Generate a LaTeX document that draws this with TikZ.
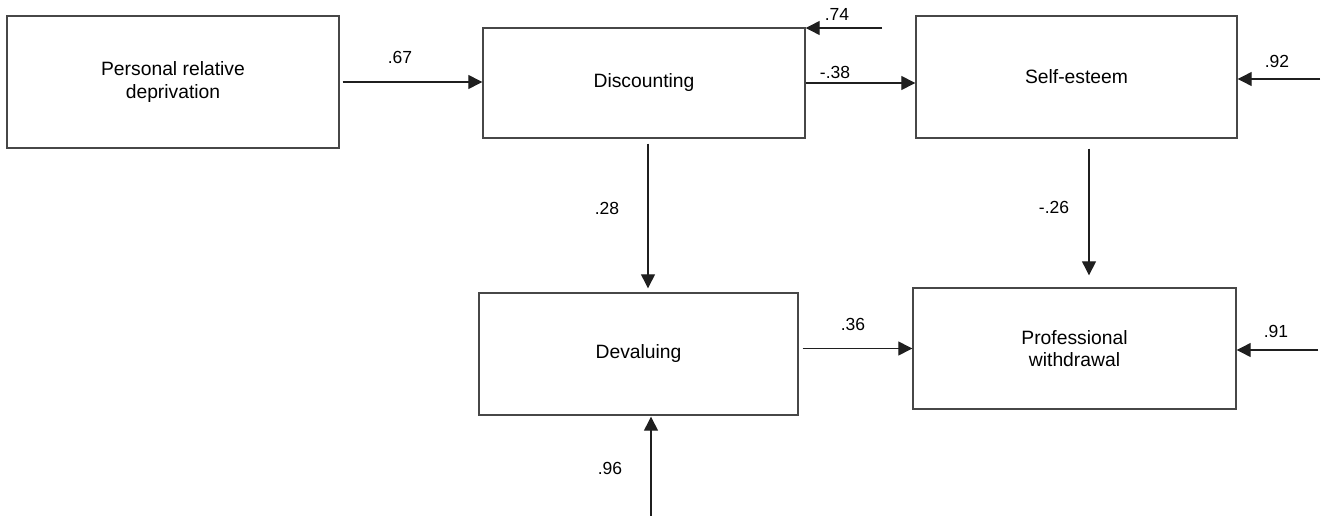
\documentclass[tikz,border=0pt]{standalone}
\usepackage{fontspec}
\setmainfont{Liberation Sans}
\usetikzlibrary{arrows.meta,calc}
\begin{document}
\begin{tikzpicture}[x=1pt,y=-1pt,
  box/.style={draw=black!72,line width=1.4pt,rectangle,inner sep=0pt,align=center,
    font=\fontsize{19.3}{22.5}\selectfont},
  conn/.style={draw=black!88,line width=1.3pt,-{Triangle[length=14pt,width=14pt]}},
  lab/.style={inner sep=0pt,font=\fontsize{17.5}{20}\selectfont}]
\useasboundingbox (0,0) rectangle (1321,516);
% boxes
\node[box,minimum width=332pt,minimum height=132pt] (prd) at (173,82) {Personal relative\\deprivation};
\node[box,minimum width=322pt,minimum height=110pt] (disc) at (644,83) {Discounting};
\node[box,minimum width=321pt,minimum height=122pt] (se) at (1076.5,77) {Self-esteem};
\node[box,minimum width=319pt,minimum height=122pt] (dev) at (638.5,354) {Devaluing};
\node[box,minimum width=323pt,minimum height=121pt] (pw) at (1074.5,348.5) {Professional\\withdrawal};
% free ends of error arrows
\coordinate (e74) at (882,28);
\coordinate (e92) at (1320,79);
\coordinate (e91) at (1318,350);
\coordinate (e96) at (651,516);
% connectors
\draw[conn,shorten <=3pt] (prd.east) -- (prd.east -| disc.west);
\draw[conn] (disc.east) -- (disc.east -| se.west);
\draw[conn] (e74) -- (e74 -| disc.east);
\draw[conn] (e92) -- (e92 -| se.east);
\draw[conn,shorten <=5pt,shorten >=4pt] ($(disc.south)+(4,0)$) -- ($(disc.south |- dev.north)+(4,0)$);
\draw[conn,shorten <=10pt,shorten >=12pt] ($(se.south)+(12.5,0)$) -- ($(se.south |- pw.north)+(12.5,0)$);
\draw[conn,shorten <=4pt] (dev.east |- pw.west) -- (pw.west);
\draw[conn] (e91) -- (e91 -| pw.east);
\draw[conn,shorten >=1pt] (e96) -- (e96 |- dev.south);
% labels
\node[lab] (l67) at (400,57) {.67};
\node[lab] (l38) at (835,72) {-.38};
\node[lab] (l74) at (837,14) {.74};
\node[lab] (l92) at (1277,61) {.92};
\node[lab] (l28) at (607,208) {.28};
\node[lab] (l26) at (1054,207) {-.26};
\node[lab] (l36) at (853,324) {.36};
\node[lab] (l91) at (1276,331) {.91};
\node[lab] (l96) at (610,468) {.96};
\end{tikzpicture}
\end{document}
